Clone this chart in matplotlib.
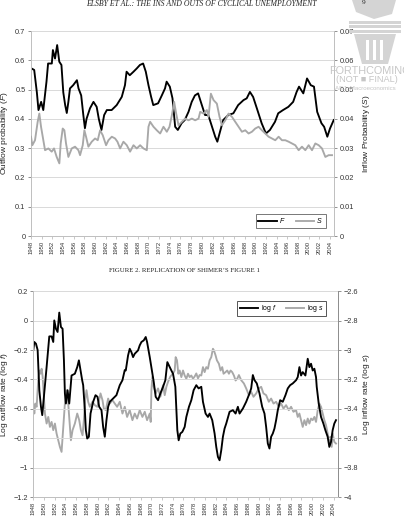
import matplotlib
matplotlib.use("Agg")
import matplotlib.pyplot as plt
from matplotlib.ticker import FixedLocator, FuncFormatter
from matplotlib.patches import Polygon, Rectangle

plt.rcParams['font.family'] = ['Liberation Sans', 'DejaVu Sans']
plt.rcParams['mathtext.fontset'] = 'custom'
plt.rcParams['mathtext.rm'] = 'Liberation Sans'
plt.rcParams['mathtext.it'] = 'Liberation Sans:italic'

# ---------------- data: top chart ----------------
F_year = [1948.1, 1948.6, 1949.1, 1949.4, 1949.9, 1950.3, 1950.9, 1951.2, 1951.9, 1952.1,
          1952.5, 1952.9, 1953.3, 1953.7, 1954.05, 1954.4, 1954.7, 1955.0, 1955.3, 1955.9,
          1956.6, 1956.9, 1957.4, 1957.8, 1958.1, 1958.4, 1959.05, 1959.7, 1960.3, 1960.7,
          1961.2, 1961.7, 1962.2, 1963.1, 1964.05, 1965.0, 1965.6, 1965.9, 1966.5, 1967.2,
          1967.8, 1968.4, 1969.0, 1969.5, 1970.0, 1970.5, 1970.9, 1971.8, 1972.5, 1973.1,
          1973.4, 1974.0, 1974.5, 1975.0, 1975.5, 1976.2, 1976.8, 1977.5, 1978.1, 1978.7,
          1979.3, 1980.0, 1980.6, 1981.2, 1981.8, 1982.5, 1982.9, 1983.4, 1984.0, 1984.95,
          1985.9, 1986.8, 1987.8, 1988.4, 1989.0, 1989.6, 1990.3, 1991.2, 1992.0, 1992.75,
          1993.7, 1994.3, 1995.2, 1996.2, 1997.1, 1997.75, 1998.2, 1999.0, 1999.7, 2000.4,
          2001.0, 2001.6, 2002.4, 2002.9, 2003.5, 2004.0, 2004.7]
F_val = [0.572, 0.567, 0.49, 0.43, 0.458, 0.43, 0.527, 0.589, 0.589, 0.635,
         0.606, 0.652, 0.595, 0.584, 0.49, 0.447, 0.42, 0.458, 0.504, 0.515,
         0.532, 0.504, 0.48, 0.413, 0.368, 0.40, 0.436, 0.458, 0.441, 0.40,
         0.362, 0.413, 0.43, 0.43, 0.447, 0.475, 0.515, 0.561, 0.549, 0.561,
         0.572, 0.584, 0.589, 0.561, 0.515, 0.475, 0.447, 0.453, 0.48, 0.504,
         0.527, 0.51, 0.47, 0.373, 0.362, 0.385, 0.396, 0.424, 0.458, 0.48,
         0.487, 0.447, 0.413, 0.413, 0.379, 0.339, 0.322, 0.356, 0.396, 0.413,
         0.419, 0.447, 0.464, 0.47, 0.492, 0.475, 0.436, 0.385, 0.35, 0.362,
         0.39, 0.419, 0.43, 0.441, 0.458, 0.492, 0.51, 0.487, 0.538, 0.515,
         0.51, 0.424, 0.385, 0.373, 0.339, 0.367, 0.396]

S_year = [1948.0, 1948.25, 1948.75, 1949.25, 1949.56, 1949.88, 1950.31, 1950.63, 1951.25, 1951.88,
          1952.31, 1952.81, 1953.31, 1953.56, 1953.94, 1954.25, 1954.56, 1955.0, 1955.63, 1956.25,
          1956.88, 1957.19, 1957.69, 1958.0, 1958.31, 1958.75, 1959.38, 1960.0, 1960.5, 1960.94,
          1961.44, 1962.06, 1962.5, 1963.13, 1963.75, 1964.19, 1964.69, 1965.31, 1965.94, 1966.56,
          1967.19, 1967.81, 1968.44, 1969.06, 1969.69, 1970.0, 1970.31, 1970.94, 1971.56, 1972.19,
          1972.81, 1973.44, 1973.94, 1974.38, 1974.81, 1975.19, 1975.63, 1976.25, 1976.88, 1977.5,
          1978.13, 1978.75, 1979.38, 1979.69, 1980.31, 1980.94, 1981.25, 1981.69, 1982.19, 1982.81,
          1983.31, 1983.75, 1984.38, 1985.0, 1985.63, 1986.25, 1986.88, 1987.5, 1988.13, 1988.75,
          1989.38, 1990.0, 1990.63, 1991.25, 1991.88, 1992.5, 1993.13, 1993.75, 1994.38, 1995.0,
          1995.63, 1996.25, 1996.88, 1997.5, 1998.13, 1998.75, 1999.38, 2000.0, 2000.63, 2001.25,
          2001.88, 2002.5, 2003.13, 2003.75, 2004.38]
S_val = [0.0339, 0.031, 0.0327, 0.039, 0.0418, 0.0373, 0.0327, 0.0293, 0.0299, 0.0288,
         0.0299, 0.027, 0.0248, 0.0316, 0.0367, 0.0361, 0.0316, 0.027, 0.0299, 0.0305,
         0.0293, 0.0276, 0.031, 0.0361, 0.0339, 0.0305, 0.0322, 0.0333, 0.0327, 0.0361,
         0.0344, 0.031, 0.0327, 0.0339, 0.0333, 0.0322, 0.0299, 0.0322, 0.031, 0.0288,
         0.031, 0.0299, 0.031, 0.0299, 0.0293, 0.0373, 0.039, 0.0373, 0.0361, 0.035,
         0.0373, 0.0356, 0.0373, 0.0412, 0.0458, 0.0418, 0.0378, 0.039, 0.0401, 0.0395,
         0.0401, 0.0395, 0.0401, 0.0424, 0.0418, 0.043, 0.0407, 0.0486, 0.0464, 0.0452,
         0.0407, 0.0378, 0.0395, 0.0418, 0.0407, 0.039, 0.0373, 0.0356, 0.0361, 0.035,
         0.0356, 0.0367, 0.0373, 0.0361, 0.035, 0.0339, 0.0333, 0.0327, 0.0339, 0.0327,
         0.0327, 0.0322, 0.0316, 0.031, 0.0293, 0.0305, 0.0293, 0.031, 0.0293, 0.0316,
         0.031, 0.0299, 0.027, 0.0276, 0.0276]

# ---------------- data: bottom chart ----------------
logf_year = [1948.0, 1948.19, 1948.5, 1948.81, 1949.12, 1949.43, 1949.67, 1949.86, 1950.48, 1950.98,
             1951.41, 1951.72, 1951.91, 1952.22, 1952.53, 1952.84, 1953.15, 1953.46, 1953.71, 1953.89,
             1954.08, 1954.39, 1954.7, 1955.13, 1955.75, 1956.19, 1956.5, 1956.81, 1957.12, 1957.3,
             1957.61, 1957.8, 1958.05, 1958.36, 1958.67, 1959.16, 1959.6, 1959.97, 1960.28, 1960.71,
             1961.02, 1961.33, 1961.64, 1961.95, 1962.26, 1962.88, 1963.5, 1964.12, 1964.62, 1965.05,
             1965.24, 1965.67, 1965.98, 1966.29, 1966.6, 1966.91, 1967.22, 1967.53, 1967.84, 1968.16,
             1968.59, 1968.96, 1969.21, 1969.71, 1970.2, 1970.45, 1970.82, 1971.26, 1971.69, 1972.19,
             1972.62, 1972.99, 1973.43, 1973.74, 1974.05, 1974.48, 1974.67, 1974.85, 1975.1, 1975.41,
             1975.78, 1976.22, 1976.53, 1977.02, 1977.46, 1977.89, 1978.39, 1978.82, 1979.32, 1979.63,
             1980.12, 1980.56, 1980.87, 1981.36, 1981.8, 1982.11, 1982.42, 1982.73, 1983.04, 1983.35,
             1983.66, 1983.97, 1984.59, 1985.21, 1985.71, 1986.14, 1986.45, 1987.07, 1987.69, 1988.31,
             1988.62, 1988.93, 1989.24, 1989.67, 1990.17, 1990.67, 1991.1, 1991.41, 1991.72, 1992.03,
             1992.34, 1992.65, 1992.96, 1993.27, 1993.58, 1994.02, 1994.51, 1995.01, 1995.44, 1995.88,
             1996.37, 1996.99, 1997.3, 1997.61, 1997.92, 1998.23, 1998.73, 1999.16, 1999.47, 1999.78,
             2000.09, 2000.4, 2000.71, 2000.84, 2001.21, 2001.64, 2002.08, 2002.45, 2002.88, 2003.19,
             2003.5, 2003.81, 2004.12, 2004.43]
logf_val = [-0.20, -0.145, -0.157, -0.20, -0.473, -0.586, -0.643, -0.564, -0.316, -0.107,
            -0.107, -0.145, 0.002, -0.055, -0.077, 0.055, -0.043, -0.055, -0.27, -0.495,
            -0.564, -0.473, -0.564, -0.373, -0.361, -0.316, -0.27, -0.339, -0.407, -0.439,
            -0.609, -0.745, -0.802, -0.79, -0.632, -0.552, -0.507, -0.518, -0.586, -0.609,
            -0.723, -0.79, -0.677, -0.586, -0.552, -0.53, -0.507, -0.439, -0.405, -0.336,
            -0.339, -0.236, -0.191, -0.214, -0.248, -0.225, -0.214, -0.202, -0.168, -0.145,
            -0.134, -0.111, -0.145, -0.248, -0.361, -0.416, -0.518, -0.541, -0.495, -0.45,
            -0.405, -0.282, -0.316, -0.339, -0.361, -0.45, -0.609, -0.745, -0.814, -0.768,
            -0.757, -0.723, -0.655, -0.586, -0.541, -0.473, -0.439, -0.461, -0.45, -0.552,
            -0.632, -0.655, -0.632, -0.677, -0.768, -0.859, -0.927, -0.95, -0.882, -0.79,
            -0.734, -0.70, -0.62, -0.609, -0.632, -0.586, -0.632, -0.598, -0.552, -0.495,
            -0.461, -0.37, -0.405, -0.427, -0.495, -0.586, -0.632, -0.723, -0.836, -0.87,
            -0.79, -0.768, -0.734, -0.677, -0.609, -0.541, -0.552, -0.507, -0.461, -0.439,
            -0.427, -0.405, -0.384, -0.316, -0.373, -0.35, -0.373, -0.259, -0.316, -0.293,
            -0.339, -0.327, -0.384, -0.45, -0.564, -0.655, -0.70, -0.745, -0.79, -0.859,
            -0.825, -0.745, -0.70, -0.677]

logs_year = [1948.0, 1948.19, 1948.37, 1948.62, 1948.93, 1949.12, 1949.36, 1949.55, 1949.74, 1949.98,
             1950.17, 1950.48, 1950.79, 1951.1, 1951.41, 1951.72, 1952.03, 1952.34, 1952.65, 1952.96,
             1953.27, 1953.46, 1953.71, 1953.89, 1954.2, 1954.51, 1954.82, 1955.01, 1955.32, 1955.75,
             1956.19, 1956.56, 1956.87, 1957.18, 1957.43, 1957.67, 1957.92, 1958.23, 1958.54, 1959.04,
             1959.47, 1959.91, 1960.28, 1960.53, 1960.9, 1961.15, 1961.52, 1961.95, 1962.26, 1962.76,
             1963.19, 1963.63, 1964.12, 1964.62, 1965.05, 1965.49, 1965.98, 1966.48, 1966.91, 1967.35,
             1967.84, 1968.34, 1968.78, 1969.21, 1969.71, 1969.89, 1970.02, 1970.2, 1970.45, 1970.82,
             1971.26, 1971.69, 1972.19, 1972.5, 1972.81, 1973.12, 1973.55, 1974.05, 1974.36, 1974.54,
             1974.79, 1975.04, 1975.29, 1975.6, 1975.91, 1976.22, 1976.53, 1976.84, 1977.15, 1977.46,
             1977.77, 1978.08, 1978.39, 1978.7, 1979.01, 1979.32, 1979.63, 1979.94, 1980.25, 1980.56,
             1980.87, 1981.18, 1981.49, 1981.67, 1981.98, 1982.23, 1982.6, 1982.91, 1983.22, 1983.47,
             1983.84, 1984.16, 1984.47, 1984.78, 1985.08, 1985.4, 1985.71, 1986.02, 1986.33, 1986.76,
             1987.26, 1987.69, 1988.19, 1988.62, 1989.05, 1989.55, 1990.05, 1990.48, 1990.91, 1991.41,
             1991.91, 1992.34, 1992.78, 1993.27, 1993.77, 1994.2, 1994.64, 1995.13, 1995.63, 1996.06,
             1996.5, 1996.99, 1997.3, 1997.61, 1997.92, 1998.23, 1998.54, 1998.85, 1999.16, 1999.47,
             1999.78, 2000.09, 2000.4, 2000.71, 2001.02, 2001.33, 2001.64, 2001.95, 2002.26, 2002.57,
             2002.88, 2003.19, 2003.38, 2003.63, 2003.81, 2004.12, 2004.43]
logs_val = [-3.375, -3.432, -3.364, -3.386, -3.2, -3.139, -3.161, -3.127, -3.18, -3.318,
            -3.432, -3.5, -3.455, -3.523, -3.489, -3.545, -3.5, -3.568, -3.614, -3.659,
            -3.693, -3.59, -3.455, -3.364, -3.273, -3.364, -3.523, -3.614, -3.545, -3.5,
            -3.432, -3.477, -3.545, -3.58, -3.477, -3.341, -3.273, -3.352, -3.386, -3.352,
            -3.375, -3.386, -3.341, -3.295, -3.341, -3.398, -3.409, -3.33, -3.364, -3.341,
            -3.364, -3.386, -3.352, -3.432, -3.386, -3.455, -3.409, -3.477, -3.432, -3.466,
            -3.409, -3.455, -3.42, -3.477, -3.432, -3.489, -3.273, -3.182, -3.25, -3.295,
            -3.261, -3.318, -3.239, -3.307, -3.25, -3.216, -3.18, -3.159, -3.139, -3.048,
            -3.07, -3.161, -3.139, -3.184, -3.139, -3.173, -3.195, -3.161, -3.184, -3.173,
            -3.195, -3.18, -3.159, -3.193, -3.17, -3.173, -3.116, -3.15, -3.116, -3.127,
            -3.07, -3.048, -2.991, -3.002, -3.036, -3.07, -3.093, -3.139, -3.116, -3.161,
            -3.15, -3.139, -3.161, -3.139, -3.15, -3.173, -3.207, -3.195, -3.17, -3.205,
            -3.227, -3.261, -3.307, -3.284, -3.318, -3.295, -3.261, -3.25, -3.295, -3.307,
            -3.352, -3.33, -3.364, -3.352, -3.386, -3.364, -3.398, -3.375, -3.409, -3.386,
            -3.42, -3.409, -3.455, -3.432, -3.477, -3.523, -3.477, -3.511, -3.466, -3.5,
            -3.466, -3.477, -3.455, -3.489, -3.409, -3.364, -3.386, -3.432, -3.477, -3.511,
            -3.568, -3.636, -3.59, -3.659, -3.568, -3.625, -3.636]

year_ticks = list(range(1948, 2005, 2))
header_text = "ELSBY ET AL.: THE INS AND OUTS OF CYCLICAL UNEMPLOYMENT"
caption_text = "FIGURE 2. REPLICATION OF SHIMER\u2019S FIGURE 1"

# ---------------- figure ----------------
W, H = 404, 526
fig = plt.figure(figsize=(W / 100, H / 100), dpi=100)


def fx(px):
    return px / W


def fy(py):
    return 1 - py / H


BLACK = "#000000"
GRAY = "#a8a8a8"
GRID = "#d9d9d9"
TICKFS = 5.3
LABFS = 6.0


def fmt(v, pos=None):
    s = f"{v:.10g}"
    return s.replace("-", "\u2212")


def style_axes(ax, ax2, spine_right_color):
    for a in (ax, ax2):
        for s in a.spines.values():
            s.set_visible(False)
    ax.spines['left'].set_visible(True)
    ax.spines['left'].set_color("#bfbfbf")
    ax.spines['left'].set_linewidth(0.7)
    ax.spines['bottom'].set_visible(True)
    ax.spines['bottom'].set_color("#bfbfbf")
    ax.spines['bottom'].set_linewidth(0.7)
    ax2.spines['right'].set_visible(True)
    ax2.spines['right'].set_color(spine_right_color)
    ax2.spines['right'].set_linewidth(0.7)
    ax.grid(axis='y', color=GRID, linewidth=0.7)
    ax.set_axisbelow(True)
    ax.tick_params(axis='y', length=2, width=0.6, color="#808080", labelsize=TICKFS, pad=2,
                   labelcolor="#333333")
    ax2.tick_params(axis='y', length=2, width=0.6, color="#808080", labelsize=TICKFS, pad=2,
                    labelcolor="#333333")
    ax.tick_params(axis='x', length=2, width=0.6, color="#bfbfbf", labelsize=4.2, pad=1.5,
                   labelrotation=90, labelcolor="#333333")
    ax.set_xlim(1948, 2004.75)
    ax.xaxis.set_major_locator(FixedLocator(year_ticks))
    ax.set_xticklabels([str(y) for y in year_ticks])
    ax.yaxis.set_major_formatter(FuncFormatter(fmt))
    ax2.yaxis.set_major_formatter(FuncFormatter(fmt))


# ---- top chart ----
ax1 = fig.add_axes([fx(31), fy(236), fx(334) - fx(31), fy(31) - fy(236)])
ax1b = ax1.twinx()
ax1.set_ylim(0, 0.7)
ax1b.set_ylim(0, 0.07)
ax1.yaxis.set_major_locator(FixedLocator([0, 0.1, 0.2, 0.3, 0.4, 0.5, 0.6, 0.7]))
ax1b.yaxis.set_major_locator(FixedLocator([0, 0.01, 0.02, 0.03, 0.04, 0.05, 0.06, 0.07]))
style_axes(ax1, ax1b, "#bfbfbf")
lF, = ax1.plot(F_year, F_val, color=BLACK, lw=1.35, solid_joinstyle='round')
lS, = ax1b.plot(S_year, S_val, color=GRAY, lw=1.35, solid_joinstyle='round')
ax1.set_ylabel("Outflow probability ($\\mathit{F}$)", fontsize=LABFS, color="#222222")
ax1b.set_ylabel("Inflow Probability ($\\mathit{S}$)", fontsize=LABFS, color="#222222")
ax1.yaxis.set_label_coords((10 - 31) / 303, 0.5)
ax1b.yaxis.set_label_coords((361 - 31) / 303, 0.5)
leg1 = ax1b.legend([lF, lS], ["$\\mathit{F}$", "$\\mathit{S}$"], ncol=2, loc='lower right',
                   bbox_to_anchor=(0.972, 0.04), fontsize=5, frameon=True, fancybox=False,
                   handlelength=2.6, handletextpad=0.4, columnspacing=1.4, borderpad=0.35,
                   borderaxespad=0)
leg1.get_frame().set_edgecolor("#555555")
leg1.get_frame().set_linewidth(0.7)

# ---- bottom chart ----
ax2 = fig.add_axes([fx(33.3), fy(497), fx(337.7) - fx(33.3), fy(291.3) - fy(497)])
ax2b = ax2.twinx()
ax2.set_ylim(-1.2, 0.2)
ax2b.set_ylim(-4.0, -2.6)
ax2.yaxis.set_major_locator(FixedLocator([-1.2, -1.0, -0.8, -0.6, -0.4, -0.2, 0.0, 0.2]))
ax2b.yaxis.set_major_locator(FixedLocator([-4.0, -3.8, -3.6, -3.4, -3.2, -3.0, -2.8, -2.6]))
style_axes(ax2, ax2b, "#8c8c8c")
lg, = ax2b.plot(logs_year, logs_val, color=GRAY, lw=1.35, solid_joinstyle='round')
lf, = ax2.plot(logf_year, logf_val, color=BLACK, lw=1.35, solid_joinstyle='round')
ax2.set_zorder(ax2b.get_zorder() + 1)
ax2.patch.set_visible(False)
ax2.set_ylabel("Log outflow rate (log $\\mathit{f}$)", fontsize=LABFS, color="#222222")
ax2b.set_ylabel("Log inflow rate (log $\\mathit{s}$)", fontsize=LABFS, color="#222222")
ax2.yaxis.set_label_coords((10.5 - 33.3) / 304.4, 0.5)
ax2b.yaxis.set_label_coords((361.5 - 33.3) / 304.4, 0.5)
leg2 = ax2.legend([lf, lg], ["log $\\mathit{f}$", "log $\\mathit{s}$"], ncol=2, loc='upper right',
                  bbox_to_anchor=(0.962, 0.955), fontsize=5, frameon=True, fancybox=False,
                  handlelength=2.6, handletextpad=0.4, columnspacing=1.4, borderpad=0.35,
                  borderaxespad=0, framealpha=1)
leg2.get_frame().set_edgecolor("#555555")
leg2.get_frame().set_linewidth(0.7)

# ---- page texts ----
fig.text(fx(201), fy(4), header_text, fontsize=5.6, style='italic',
         family=['Liberation Serif', 'DejaVu Serif'], ha='center', va='center', color="#222222")
fig.text(fx(364), fy(3), "9", fontsize=5.2, family=['Liberation Serif', 'DejaVu Serif'],
         ha='center', va='center', color="#222222")
fig.text(fx(184), fy(270.5), caption_text, fontsize=4.9,
         family=['Liberation Serif', 'DejaVu Serif'], ha='center', va='center', color="#222222")

# ---- watermark (torch + text) ----
WM = "#d4d4d4"
fig.patches.append(Polygon([(fx(352), fy(0)), (fx(396), fy(0)), (fx(392), fy(14)),
                            (fx(374), fy(19)), (fx(356), fy(12))],
                           closed=True, transform=fig.transFigure, facecolor=WM, edgecolor='none'))
for ytop in (21, 25.5, 30):
    fig.patches.append(Rectangle((fx(349), fy(ytop + 2.6)), fx(401) - fx(349), fy(ytop) - fy(ytop + 2.6),
                                 transform=fig.transFigure, facecolor=WM, edgecolor='none'))
fig.patches.append(Polygon([(fx(354), fy(34)), (fx(396), fy(34)), (fx(388), fy(64)), (fx(362), fy(64))],
                           closed=True, transform=fig.transFigure, facecolor=WM, edgecolor='none'))
for xs in (366, 373, 380):
    fig.patches.append(Rectangle((fx(xs), fy(60)), fx(3), fy(40) - fy(60),
                                 transform=fig.transFigure, facecolor="white", edgecolor='none'))
fig.text(fx(329), fy(70.5), "FORTHCOMING", fontsize=7.8, color="#c6c6c6", ha='left', va='center')
fig.text(fx(336), fy(80), "(NOT \u25A0 FINAL)", fontsize=6.6, color="#c6c6c6", ha='left', va='center')
fig.text(fx(335), fy(88.5), "AEJ: Macroeconomics", fontsize=4.4, color="#c6c6c6", ha='left', va='center')

fig.savefig("out.png", dpi=100)
